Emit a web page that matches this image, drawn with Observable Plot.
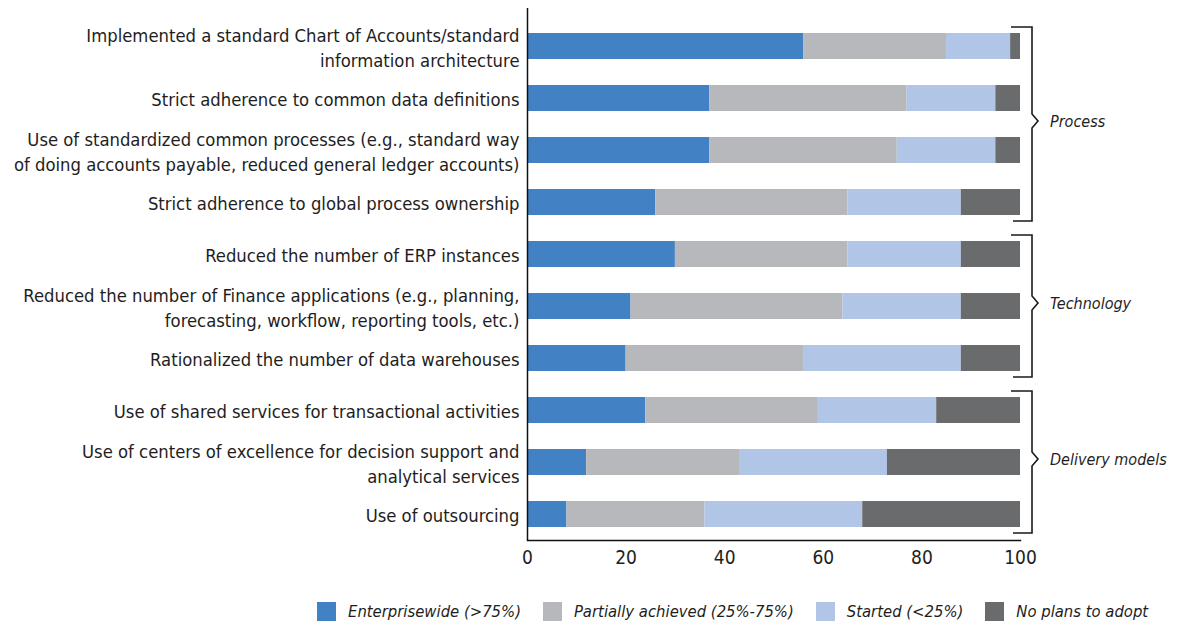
<!DOCTYPE html>
<html>
<head>
<meta charset="utf-8">
<script src="https://cdn.jsdelivr.net/npm/d3@7"></script>
<script src="https://cdn.jsdelivr.net/npm/@observablehq/plot@0.6"></script>
<style>
  html, body { margin: 0; padding: 0; background: #fff; }
  body { font-family: "Liberation Sans Narrow", "DejaVu Sans Condensed", sans-serif; color: #1e1e1e; }
  #wrap { position: relative; width: 1177px; height: 626px; overflow: hidden; }
  #legend { display: flex; flex-wrap: nowrap; align-items: center; padding-left: 317px; height: 38px; margin-top: 7px; font-style: italic; font-size: 16.5px; white-space: nowrap; }
  .item { display: flex; align-items: center; flex: none; margin-right: 22px; }
  .sw { width: 19px; height: 19px; margin-right: 12px; flex: none; }
</style>
</head>
<body>
<div id="wrap">
  <div id="chart"></div>
  <div id="legend"></div>
</div>
<script>
const categories = [
  "Implemented a standard Chart of Accounts/standard\ninformation architecture",
  "Strict adherence to common data definitions",
  "Use of standardized common processes (e.g., standard way\nof doing accounts payable, reduced general ledger accounts)",
  "Strict adherence to global process ownership",
  "Reduced the number of ERP instances",
  "Reduced the number of Finance applications (e.g., planning,\nforecasting, workflow, reporting tools, etc.)",
  "Rationalized the number of data warehouses",
  "Use of shared services for transactional activities",
  "Use of centers of excellence for decision support and\nanalytical services",
  "Use of outsourcing"
];
const enterprisewide = [56, 37, 37, 26, 30, 21, 20, 24, 12, 8];
const partiallyAchieved = [29, 40, 38, 39, 35, 43, 36, 35, 31, 28];
const started = [13, 18, 20, 23, 23, 24, 32, 24, 30, 32];
const noPlans = [2, 5, 5, 12, 12, 12, 12, 17, 27, 32];
const statuses = ["Enterprisewide (>75%)", "Partially achieved (25%-75%)", "Started (<25%)", "No plans to adopt"];
const statusColors = ["#4282c4", "#b7b8bb", "#b1c5e6", "#6a6b6d"];
const groups = ["Process", "Technology", "Delivery models"];
const groupFirst = [0, 4, 7];
const groupLast = [3, 6, 9];
const xTicks = [0, 20, 40, 60, 80, 100];

const series = [enterprisewide, partiallyAchieved, started, noPlans];
const data = categories.flatMap((c, i) => statuses.map((s, j) => ({category: c, status: s, value: series[j][i]})));

const FONT = '"Liberation Sans Narrow", "DejaVu Sans Condensed", sans-serif';

const plot = Plot.plot({
  width: 1177,
  height: 585,
  marginLeft: 527,
  marginRight: 157,
  marginTop: 8,
  marginBottom: 45,
  style: {fontFamily: FONT, fontSize: "18px", color: "#1e1e1e", background: "white", overflow: "visible"},
  x: {domain: [0, 100], ticks: xTicks, label: null},
  y: {domain: categories, range: [20, 540], paddingInner: 0.5, paddingOuter: 0.25, label: null},
  color: {domain: statuses, range: statusColors},
  marks: [
    Plot.barX(data, Plot.stackX({x: "value", y: "category", fill: "status"})),
    Plot.ruleX([0], {stroke: "#111", strokeWidth: 1.5}),
    Plot.frame({anchor: "bottom", stroke: "#111", strokeWidth: 1.5}),
    Plot.axisX({ticks: xTicks, tickSize: 0, tickPadding: 10, fontSize: 19, label: null}),
    Plot.axisY({tickSize: 0, tickPadding: 8, fontSize: 18.3, lineHeight: 1.35, label: null})
  ]
});
document.getElementById("chart").appendChild(plot);

// Group brackets drawn from the plot's own scales
const xs = plot.scale("x"), ys = plot.scale("y");
const svg = d3.select(plot);
const xEnd = xs.apply(100);
const bw = ys.bandwidth;
groups.forEach((g, k) => {
  const top = ys.apply(categories[groupFirst[k]]) - 6;
  const bottom = ys.apply(categories[groupLast[k]]) + bw + 6;
  const mid = (top + bottom) / 2 - 3;
  const vx = xEnd + 12;
  svg.append("path")
    .attr("d", `M${xEnd - 9},${top}H${vx}V${mid - 7}L${vx + 6},${mid}L${vx},${mid + 7}V${bottom}H${xEnd - 7}`)
    .attr("fill", "none").attr("stroke", "#1a1a1a").attr("stroke-width", 1.6);
  svg.append("text")
    .attr("x", vx + 18).attr("y", mid).attr("dy", "0.35em")
    .attr("text-anchor", "start")
    .attr("font-family", FONT)
    .attr("font-style", "italic").attr("font-size", 16).attr("fill", "#1e1e1e")
    .text(g);
});

// Legend
const legend = d3.select("#legend");
statuses.forEach((s, i) => {
  const it = legend.append("div").attr("class", "item");
  it.append("div").attr("class", "sw").style("background", statusColors[i]);
  it.append("span").text(s);
});
</script>
</body>
</html>
